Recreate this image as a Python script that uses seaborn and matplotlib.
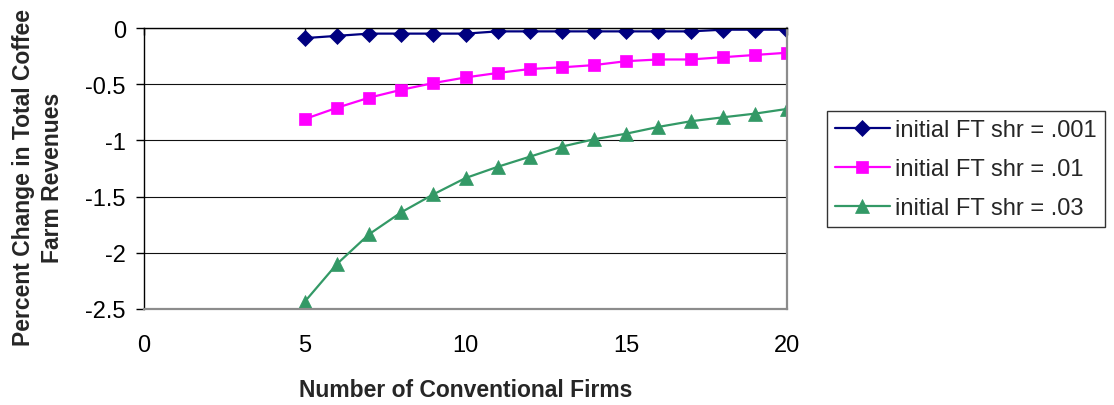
import matplotlib
matplotlib.use("Agg")
import matplotlib.pyplot as plt
import seaborn as sns

# Number of conventional firms (x) and percent change in total coffee farm revenues
firms = [5, 6, 7, 8, 9, 10, 11, 12, 13, 14, 15, 16, 17, 18, 19, 20]
shr_001 = [-0.09, -0.07, -0.05, -0.05, -0.05, -0.05, -0.03, -0.03,
           -0.03, -0.03, -0.03, -0.03, -0.03, -0.015, -0.015, -0.015]
shr_01 = [-0.81, -0.71, -0.62, -0.55, -0.49, -0.44, -0.40, -0.365,
          -0.35, -0.33, -0.295, -0.28, -0.28, -0.26, -0.24, -0.22]
shr_03 = [-2.435, -2.10, -1.835, -1.64, -1.48, -1.335, -1.235, -1.145,
          -1.055, -0.99, -0.94, -0.88, -0.83, -0.795, -0.762, -0.72]

series_labels = ["initial FT shr = .001", "initial FT shr = .01", "initial FT shr = .03"]
x_ticks = [0, 5, 10, 15, 20]
y_ticks = [0, -0.5, -1, -1.5, -2, -2.5]
y_tick_labels = ["0", "-0.5", "-1", "-1.5", "-2", "-2.5"]

sns.set_style("white")
plt.rcParams["font.family"] = ["Liberation Sans", "DejaVu Sans"]
plt.rcParams["axes.unicode_minus"] = False

fig = plt.figure(figsize=(11.14, 4.06), dpi=100)
ax = fig.add_axes([144 / 1114, 96 / 406, 643 / 1114, 281 / 406])

styles = [
    (shr_001, "#000080", "D", 8.5),
    (shr_01, "#FF00FF", "s", 9.0),
    (shr_03, "#339966", "^", 10.5),
]
for (vals, color, marker, ms), lab in zip(styles, series_labels):
    sns.lineplot(x=firms, y=vals, ax=ax, color=color, linewidth=1.6,
                 marker=marker, markersize=ms, markeredgecolor=color,
                 markeredgewidth=0.5, label=lab)

ax.set_xlim(0, 20)
ax.set_ylim(-2.5, 0)
ax.set_xticks(x_ticks)
ax.set_xticklabels([str(t) for t in x_ticks])
ax.set_yticks(y_ticks)
ax.set_yticklabels(y_tick_labels)

# horizontal gridlines
ax.yaxis.grid(True, color="#111111", linewidth=0.8)
ax.xaxis.grid(False)
ax.set_axisbelow(True)

for side in ("right", "bottom"):
    ax.spines[side].set_color("#8c8c8c")
    ax.spines[side].set_linewidth(1.6)
ax.spines["left"].set_color("black")
ax.spines["left"].set_linewidth(1.0)
ax.spines["top"].set_color("black")
ax.spines["top"].set_linewidth(1.0)

ax.tick_params(axis="y", left=True, direction="out", length=6, width=1,
               color="black", pad=7, labelsize=17, labelcolor="black")
ax.tick_params(axis="x", bottom=False, top=True, direction="in", length=5,
               width=1, color="black", pad=18, labelsize=17,
               labelbottom=True, labeltop=False, labelcolor="black")

ax.set_xlabel("Number of Conventional Firms", fontsize=16.5, fontweight="bold")
ax.xaxis.label.set_va("center")
ax.xaxis.set_label_coords(0.5, -0.285)

ax.set_ylabel("Percent Change in Total Coffee\nFarm Revenues", fontsize=16.5,
              fontweight="bold", linespacing=1.3)
ax.yaxis.label.set_va("center")
ax.yaxis.set_label_coords((38 - 144) / 643, (406 - 178 - 96) / 281)

leg = ax.legend(loc="center left", bbox_to_anchor=(827 / 1114, 1 - 170 / 406),
                bbox_transform=fig.transFigure, borderaxespad=0, frameon=True,
                fancybox=False, fontsize=17, handlelength=2.3,
                labelspacing=0.72, handletextpad=0.25, borderpad=0.35)
leg.get_frame().set_edgecolor("black")
leg.get_frame().set_linewidth(1.0)

fig.savefig("out.png", dpi=100)
